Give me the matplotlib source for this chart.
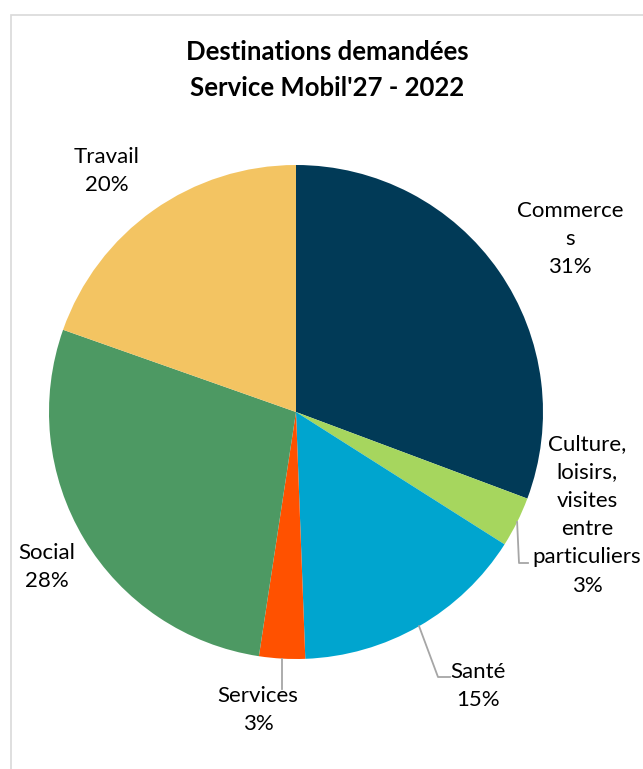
import matplotlib.pyplot as plt
from matplotlib.patches import Rectangle
import numpy as np

# Data (clockwise from 12 o'clock)
categories = ['Commerce\ns', 'Culture,\nloisirs,\nvisites\nentre\nparticuliers', 'Santé',
              'Services', 'Social', 'Travail']
shares = [30.7, 3.3, 15.4, 3.0, 28.0, 19.6]
colors = ['#013A57', '#A6D65E', '#00A5CF', '#FF5100', '#4D9963', '#F3C462']

W, H = 643, 769
fig = plt.figure(figsize=(W / 100, H / 100), dpi=100)
ax = fig.add_axes([0, 0, 1, 1])


def px(x, y):
    # pixel coords measured from the top-left -> data coords
    return x, H - y


# light frame of the chart area (runs off the right and bottom)
ax.add_patch(Rectangle(px(11, 815), 700, 800, fill=False, edgecolor='#D9D9D9', lw=1.2))

r = 247
wedges, _ = ax.pie(shares, colors=colors, startangle=90, counterclock=False,
                   radius=r, center=px(296, 412), wedgeprops=dict(linewidth=0),
                   frame=True)
ax.set_xlim(0, W)
ax.set_ylim(0, H)
ax.set_aspect('auto')
ax.axis('off')

font = ['Lato', 'DejaVu Sans']

# label centres (pixels from top-left) and leader line bends
label_pos = [(570, 239), (587, 515), (478, 686), (258, 710), (47, 567), (107, 171)]
leaders = {1: [(519, 563), (528, 563)], 2: [(438, 677), (450, 677)], 3: [(None, 689)]}

for i, (w, lab, val) in enumerate(zip(wedges, categories, shares)):
    ax.text(*px(*label_pos[i]), f'{lab}\n{round(val):.0f}%', ha='center', va='center',
            fontsize=16, family=font, color='#000000', linespacing=1.52)
    if i in leaders:
        mid = np.deg2rad((w.theta1 + w.theta2) / 2)
        x0 = w.center[0] + r * np.cos(mid)
        y0 = w.center[1] + r * np.sin(mid)
        pts = [(x0, y0)] + [px(x0 if a is None else a, b) for a, b in leaders[i]]
        xs, ys = zip(*pts)
        ax.plot(xs, ys, color='#A6A6A6', lw=1.3)

ax.text(*px(327, 70), "Destinations demandées\nService Mobil'27 - 2022", ha='center',
        va='center', fontsize=18.5, fontweight='bold', family=font, linespacing=1.58)

fig.savefig('out.png', dpi=100)
